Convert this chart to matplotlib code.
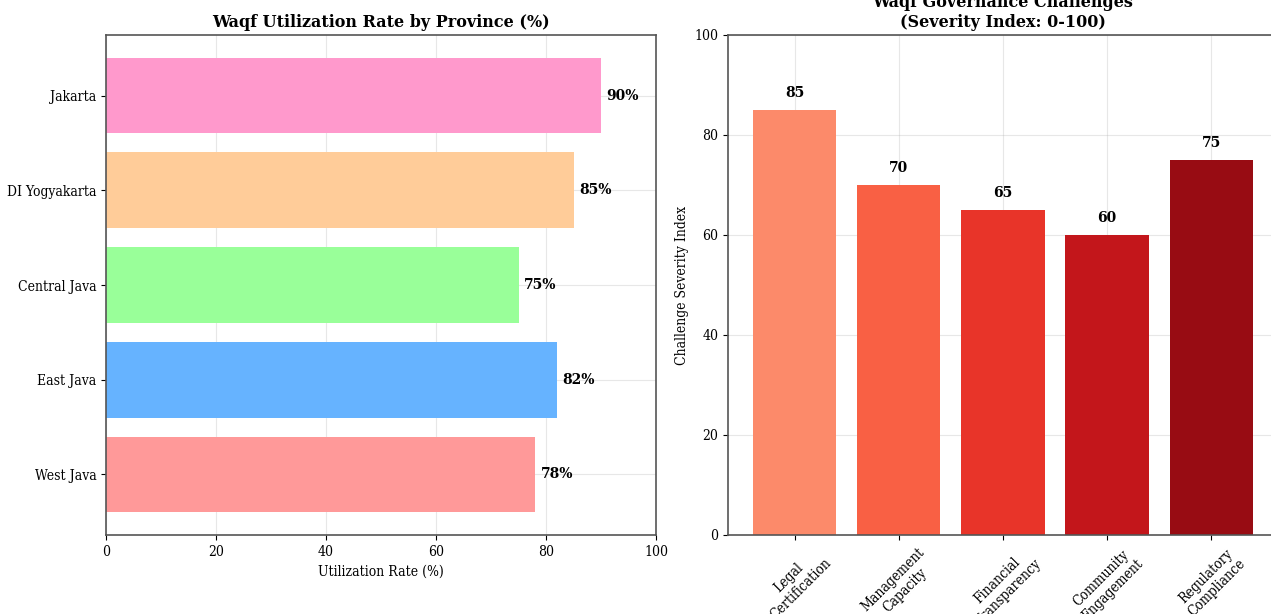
import matplotlib
matplotlib.use('Agg')
import matplotlib.pyplot as plt
import numpy as np

plt.rcParams['font.family'] = 'DejaVu Serif'
plt.rcParams['font.stretch'] = 'condensed'

provinces = ['West Java', 'East Java', 'Central Java', 'DI Yogyakarta', 'Jakarta']
utilization = [78, 82, 75, 85, 90]
prov_colors = ['#ff9999', '#66b3ff', '#99ff99', '#ffcc99', '#ff99cc']

challenges = ['Legal\nCertification', 'Management\nCapacity', 'Financial\nTransparency',
              'Community\nEngagement', 'Regulatory\nCompliance']
severity = [85, 70, 65, 60, 75]

fig = plt.figure(figsize=(12.71, 6.14), dpi=100)
W, H = 1271, 614
ax1 = fig.add_axes([106/W, 79/H, 550/W, 500/H])
ax2 = fig.add_axes([728/W, 79/H, 550/W, 500/H])

bold = dict(fontweight='bold', fontstretch='normal')

# left: utilization by province
bars = ax1.barh(provinces, utilization, color=prov_colors, height=0.8)
for b, v in zip(bars, utilization):
    ax1.text(b.get_width() + 1, b.get_y() + b.get_height()/2, str(v) + '%',
             va='center', ha='left', fontsize=10, **bold)
ax1.set_xlim(0, 100)
ax1.set_xlabel('Utilization Rate (%)')
ax1.set_title('Waqf Utilization Rate by Province (%)', fontsize=11.5, **bold)
ax1.grid(True, alpha=0.3)
ax1.set_axisbelow(True)

# right: governance challenges
red_colors = plt.cm.Reds(np.linspace(0.4, 0.9, len(severity)))
bars2 = ax2.bar(challenges, severity, color=red_colors)
for b, v in zip(bars2, severity):
    ax2.text(b.get_x() + b.get_width()/2, b.get_height() + 2, str(v),
             ha='center', va='bottom', fontsize=10, **bold)
ax2.set_ylim(0, 100)
ax2.set_ylabel('Challenge Severity Index')
ax2.set_title('Waqf Governance Challenges\n(Severity Index: 0-100)', fontsize=11.5, **bold)
ax2.tick_params(axis='x', rotation=45)
ax2.grid(True, alpha=0.3)
ax2.set_axisbelow(True)

for ax in (ax1, ax2):
    for s in ax.spines.values():
        s.set_color('#555555')
        s.set_linewidth(1.2)

fig.savefig('out.png', dpi=100)
